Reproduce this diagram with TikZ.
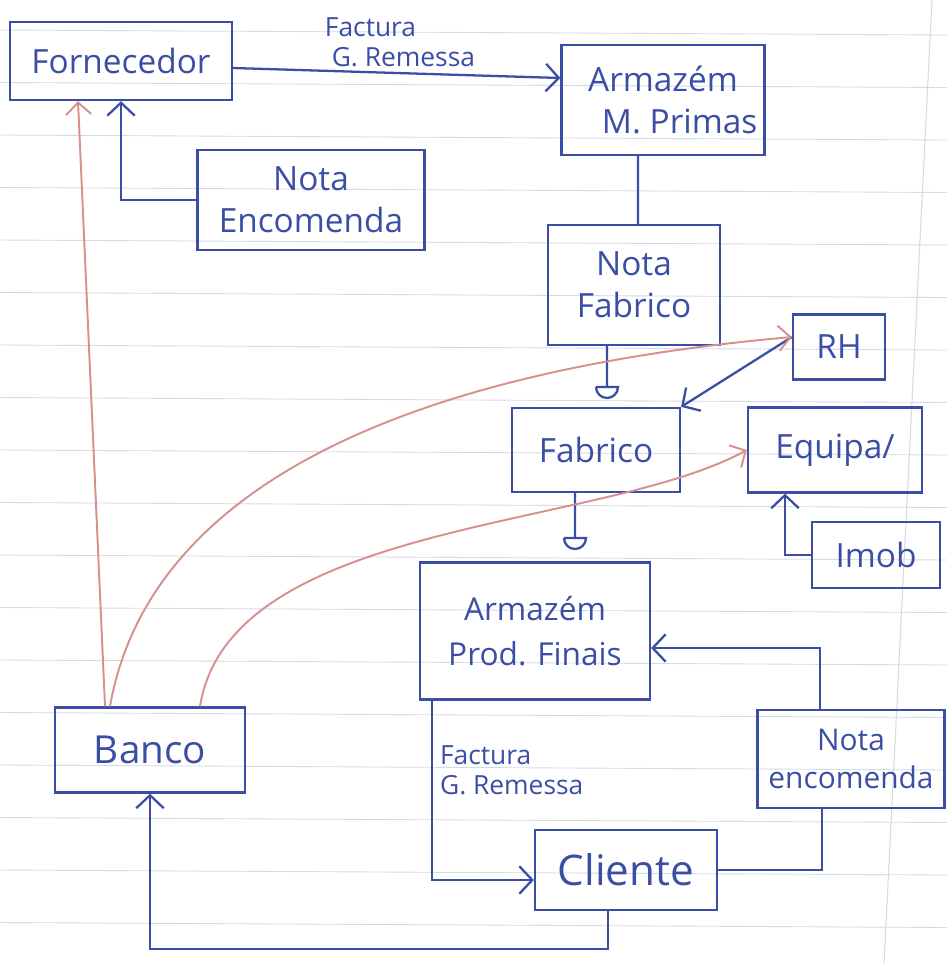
\documentclass[tikz,border=0pt]{standalone}
\usepackage{fontspec}
\setmainfont{Open Sans}
\usetikzlibrary{arrows.meta}
\definecolor{pen}{RGB}{58,78,165}
\definecolor{redpen}{RGB}{214,145,140}
\definecolor{rulecol}{RGB}{212,218,230}
\newcommand{\cupmark}[1]{\draw[pen,line width=1.3pt] (#1) ++(-0.22cm,0) -- ++(0.44cm,0) arc[start angle=0,end angle=-180,radius=0.22cm];}
\tikzset{
  box/.style={draw=pen, line width=1.3pt, text=pen, align=center, inner sep=2pt,
    font=\fontsize{19}{24}\selectfont},
  lbl/.style={text=pen, align=left, inner sep=1pt, font=\fontsize{15}{17}\selectfont},
  conn/.style={draw=pen, line width=1.3pt},
  arr/.style={-{Straight Barb[length=2.6mm,width=5.5mm]}},
  redconn/.style={draw=redpen, line width=1.1pt, -{Straight Barb[length=2.4mm,width=5mm]}}
}
\begin{document}
\begin{tikzpicture}[x=0.02cm,y=-0.02cm]
\useasboundingbox (0,0) rectangle (947,964);
\fill[white] (0,0) rectangle (947,964);
% ruled paper
\foreach \yy in {30,82.5,135,187.5,240,292.5,345,397.5,450,502.5,555,607.5,660,712.5,765,817.5,870,922.5}
  \draw[rulecol, line width=0.5pt] (0,\yy) -- (947,\yy+5);
\draw[rulecol, line width=0.6pt] (932,0) -- (884,964);

% boxes
\node[box, minimum width=4.44cm, minimum height=1.56cm] (forn) at (121,61) {Fornecedor};
\node[box, minimum width=4.06cm, minimum height=2.2cm] (armp) at (663,100) {Armazém\\ \quad M. Primas};
\node[box, minimum width=4.54cm, minimum height=2.0cm] (nenc) at (311,200) {Nota\\ Encomenda};
\node[box, minimum width=3.44cm, minimum height=2.4cm] (nfab) at (634,285) {Nota\\ Fabrico};
\node[box, minimum width=1.84cm, minimum height=1.3cm] (rh) at (839,347) {RH};
\node[box, minimum width=3.36cm, minimum height=1.68cm] (fab) at (596,450) {Fabrico};
\node[box, minimum width=3.48cm, minimum height=1.7cm] (equipa) at (835,450) {Equipa/};
\node[box, minimum width=2.56cm, minimum height=1.32cm] (imob) at (876,555) {Imob};
\node[box, minimum width=4.6cm, minimum height=2.74cm, font=\fontsize{18}{26}\selectfont] (apf) at (535,631) {Armazém\\ Prod. Finais};
\node[box, minimum width=3.74cm, minimum height=1.96cm, font=\fontsize{17}{22}\selectfont] (nenc2) at (851,759) {Nota\\ encomenda};
\node[box, minimum width=3.64cm, minimum height=1.6cm, font=\fontsize{24}{28}\selectfont] (cli) at (626,870) {Cliente};
\node[box, minimum width=3.8cm, minimum height=1.7cm, font=\fontsize{22}{26}\selectfont] (banco) at (150,750) {Banco};

% labels
\node[lbl] (lab1) at (400,42) {Factura\\ \ G. Remessa};
\node[lbl, anchor=west] (lab2) at (438,770) {Factura\\ G. Remessa};

% blue connectors
\draw[conn, arr] ([yshift=-0.14cm]forn.east) -- ([yshift=0.44cm]armp.west);
\draw[conn, arr] (nenc.west) -| (forn.south);
\draw[conn] ([xshift=-0.5cm]armp.south) -- ([xshift=0.08cm]nfab.north);

\coordinate (cup1) at (607,387);
\draw[conn] ([xshift=-0.54cm]nfab.south) -- (cup1);
\cupmark{cup1}
\coordinate (cup2) at (575,538);
\draw[conn] ([xshift=-0.42cm]fab.south) -- (cup2);
\cupmark{cup2}

\draw[conn, arr] ([yshift=0.2cm]rh.west) -- (fab.north east);
\draw[conn, arr] (imob.west) -| ([xshift=-1cm]equipa.south);
\draw[conn, arr] ([xshift=-0.62cm]nenc2.north) |- ([yshift=-0.34cm]apf.east);
\draw[conn] (cli.east) -| ([xshift=-0.58cm]nenc2.south);
\draw[conn, arr] ([xshift=-2.06cm]apf.south) |- ([yshift=-0.2cm]cli.west);
\draw[conn, arr] ([xshift=-0.36cm]cli.south) -- ++(0,38) -| (banco.south);

% red connectors
\draw[redconn] ([xshift=-0.9cm]banco.north) -- ([xshift=-0.86cm]forn.south);
\draw[redconn] ([xshift=-0.8cm]banco.north) .. controls (150,480) and (420,370) .. ([yshift=0.2cm]rh.west);
\draw[redconn] ([xshift=1cm]banco.north) .. controls (230,520) and (600,530) .. (equipa.west);
\end{tikzpicture}
\end{document}
